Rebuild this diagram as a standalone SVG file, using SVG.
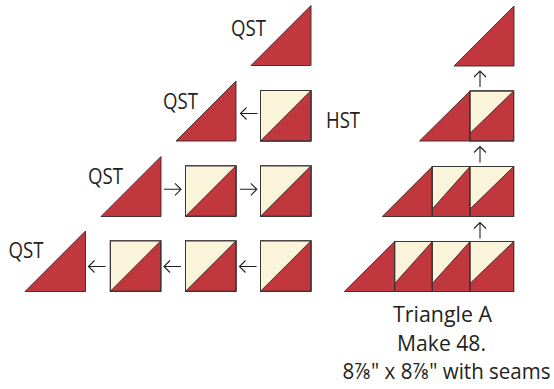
<svg xmlns="http://www.w3.org/2000/svg" width="554" height="389" viewBox="0 0 554 389">
<style>
.red{fill:#c1373e;stroke:#3b2526;stroke-width:0.9;stroke-linejoin:miter}
.cream{fill:#faf5da;stroke:#3b2526;stroke-width:0.9}
.box{fill:none;stroke:#3b3536;stroke-width:1}
.lbl{font-family:"Open Sans","Liberation Sans",sans-serif;font-size:21px;fill:#231f20}
.cap{font-family:"Open Sans","Liberation Sans","DejaVu Sans",sans-serif;font-size:22px;fill:#231f20;text-anchor:middle}
.arr{fill:none;stroke:#231f20;stroke-width:1.1}
</style>
<defs>
<g id="hst">
<rect class="cream" x="0" y="0" width="50.5" height="50.5"/>
<polygon class="red" points="0,50.5 50.5,0 50.5,50.5"/>
<rect class="box" x="0" y="0" width="50.5" height="50.5"/>
</g>
<path id="aL" class="arr" d="M0,0 H17 M6,-6 L0,0 L6,6"/>
<path id="aR" class="arr" d="M0,0 H17 M11,-6 L17,0 L11,6"/>
<path id="aU" class="arr" d="M0,0 V16 M-6,6 L0,0 L6,6"/>
</defs>

<g id="left-row1">
<polygon id="qst1" class="red" points="251,65.5 311,65.5 311,5.5"/>
<text class="lbl" x="231" y="36" textLength="35" lengthAdjust="spacingAndGlyphs">QST</text>
</g>

<g id="left-row2">
<polygon id="qst2" class="red" points="176,141 236,141 236,81"/>
<text class="lbl" x="163" y="108.5" textLength="35" lengthAdjust="spacingAndGlyphs">QST</text>
<use href="#hst" x="260.5" y="90.5"/>
<text class="lbl" x="326" y="127.5" textLength="34" lengthAdjust="spacingAndGlyphs">HST</text>
</g>

<g id="left-row3">
<polygon id="qst3" class="red" points="101,216.5 161,216.5 161,156.5"/>
<text class="lbl" x="88" y="183.5" textLength="35" lengthAdjust="spacingAndGlyphs">QST</text>
<use href="#hst" x="185.5" y="165.8"/>
<use href="#hst" x="260.5" y="165.8"/>
</g>

<g id="left-row4">
<polygon id="qst4" class="red" points="25,291.5 85.5,291.5 85.5,231"/>
<text class="lbl" x="8.5" y="257.8" textLength="35" lengthAdjust="spacingAndGlyphs">QST</text>
<use href="#hst" x="110.3" y="240.8"/>
<use href="#hst" x="185.5" y="240.8"/>
<use href="#hst" x="260.5" y="240.8"/>
</g>

<g id="right-top">
<polygon class="red" points="454,66 514,66 514,6"/>
</g>

<g id="right-row2">
<polygon class="red" points="419.5,141 470,141 470,91"/>
<rect class="red" x="470" y="91" width="43.7" height="50"/>
<polygon class="cream" points="470,91 513.7,91 470,133.3"/>
<rect class="box" x="470" y="91" width="43.7" height="50"/>
</g>

<g id="right-row3">
<polygon class="red" points="382.3,216.5 432.3,216.5 432.3,166.5"/>
<rect class="red" x="432.3" y="166.5" width="37.7" height="50"/>
<polygon class="cream" points="432.3,166.5 470,166.5 432.3,209"/>
<rect class="red" x="470" y="166.5" width="43.7" height="50"/>
<polygon class="cream" points="470,166.5 513.7,166.5 470,209"/>
<rect class="box" x="432.3" y="166.5" width="81.4" height="50"/>
<line class="box" x1="470" y1="166.5" x2="470" y2="216.5"/>
</g>

<g id="right-row4">
<polygon class="red" points="344.3,291.5 394.7,291.5 394.7,241.5"/>
<rect class="red" x="394.7" y="241.5" width="37.6" height="50"/>
<polygon class="cream" points="394.7,241.5 432.3,241.5 394.7,283.5"/>
<rect class="red" x="432.3" y="241.5" width="37.7" height="50"/>
<polygon class="cream" points="432.3,241.5 470,241.5 432.3,283.5"/>
<rect class="red" x="470" y="241.5" width="43.7" height="50"/>
<polygon class="cream" points="470,241.5 513.7,241.5 470,283.5"/>
<rect class="box" x="394.7" y="241.5" width="119" height="50"/>
<line class="box" x1="432.3" y1="241.5" x2="432.3" y2="291.5"/>
<line class="box" x1="470" y1="241.5" x2="470" y2="291.5"/>
</g>

<g id="connectors">
<use href="#aL" x="240.5" y="113.5"/>
<use href="#aR" x="164" y="189.3"/>
<use href="#aR" x="239.8" y="189.3"/>
<use href="#aL" x="88.5" y="266.5"/>
<use href="#aL" x="164" y="266.5"/>
<use href="#aL" x="239.5" y="266.5"/>
<use href="#aU" x="480" y="71"/>
<use href="#aU" x="480" y="146.5"/>
<use href="#aU" x="480" y="222.5"/>
</g>

<g id="caption">
<text class="cap" x="442.5" y="321.7" textLength="99" lengthAdjust="spacingAndGlyphs">Triangle A</text>
<text class="cap" x="441.5" y="351" textLength="89" lengthAdjust="spacingAndGlyphs">Make 48.</text>
<text class="cap" x="446.5" y="379" style="font-size:21px" textLength="208" lengthAdjust="spacingAndGlyphs">8⅞" x 8⅞" with seams</text>
</g>
</svg>
